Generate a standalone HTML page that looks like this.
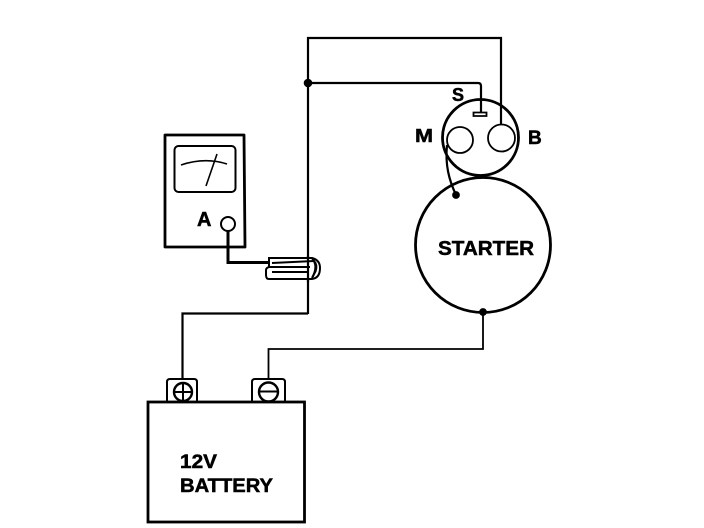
<!DOCTYPE html>
<html><head><meta charset="utf-8"><style>
html,body{margin:0;padding:0;background:#fff;width:704px;height:528px;overflow:hidden}
svg{display:block}
text{font-family:"Liberation Sans",sans-serif;font-weight:bold;fill:#000;stroke:#000;stroke-width:.5}
</style></head><body>
<svg width="704" height="528" viewBox="0 0 704 528" fill="none" stroke="#000" stroke-width="2.200">
<!-- wires -->
<path d="M308 314V38H501V124" />
<path d="M308 83H478Q481 83 481 86V112" />
<circle cx="308" cy="83" r="3.200" fill="#000"/>
<path d="M473.500 112.500h13v3.500h-13z" fill="#fff" stroke-width="1.800"/>
<path d="M182.500 379V313.500H308" />
<path d="M268.500 379V349H483V312" stroke-width="1.800"/>
<circle cx="483" cy="312" r="2.800" fill="#000"/>
<!-- solenoid -->
<circle cx="480.500" cy="137.500" r="38" stroke-width="2.800"/>
<circle cx="460" cy="140" r="13" stroke-width="1.800"/>
<circle cx="501.500" cy="138" r="13.500" stroke-width="1.800"/>
<path d="M447 145C445 165 449 180 456 195" stroke-width="2.200"/>
<circle cx="456" cy="195" r="2.800" fill="#000"/>
<!-- starter -->
<circle cx="483" cy="245" r="67.500" stroke-width="2.800"/>
<!-- meter -->
<path d="M165 135H244L245 247H165Z" stroke-width="2.800" stroke-linejoin="round"/>
<rect x="174.500" y="146" width="61" height="46" rx="4" stroke-width="2"/>
<path d="M181 165Q205 157 227 164" stroke-width="1.600"/>
<path d="M217 154L206 186" stroke-width="1.600"/>
<circle cx="228" cy="224" r="7" stroke-width="2"/>
<path d="M228 231V262.500H270" stroke-width="3"/>
<!-- clamp -->
<path d="M269 258H312Q320 260 320 268Q320 278 312 279H269Q266 279 266 275V270Q266 268 269 267Z" fill="#fff" stroke-width="2"/>
<path d="M269 267H310M272 263L314 261M272 272H308" stroke-width="2"/>
<path d="M308 256V282" stroke-width="2.200"/>
<path d="M312 258Q319 266 312 278M315 262Q318 268 314 274" stroke-width="2.200"/>
<!-- battery -->
<path d="M167 402V382Q167 379 170 379H194Q197 379 197 382V402" stroke-width="2"/>
<path d="M252 402V382Q252 379 255 379H282Q285 379 285 382V402" stroke-width="2"/>
<rect x="148" y="402" width="156.500" height="120" stroke-width="2.800"/>
<circle cx="183" cy="392" r="9" stroke-width="2.400"/>
<path d="M174 392H192M183 383V401" stroke-width="2"/>
<circle cx="268.500" cy="392" r="9.500" stroke-width="2.400"/>
<path d="M259 391.500H278" stroke-width="2"/>
<!-- labels -->
<text x="452" y="101" font-size="18">S</text>
<text x="415" y="142" font-size="18" textLength="18" lengthAdjust="spacingAndGlyphs">M</text>
<text x="528" y="144" font-size="19">B</text>
<text x="438" y="255" font-size="20" textLength="96" lengthAdjust="spacingAndGlyphs">STARTER</text>
<text x="197" y="226" font-size="20">A</text>
<text x="180" y="468" font-size="19" textLength="37" lengthAdjust="spacingAndGlyphs">12V</text>
<text x="180" y="492" font-size="19" textLength="93" lengthAdjust="spacingAndGlyphs">BATTERY</text>
</svg>
</body></html>
